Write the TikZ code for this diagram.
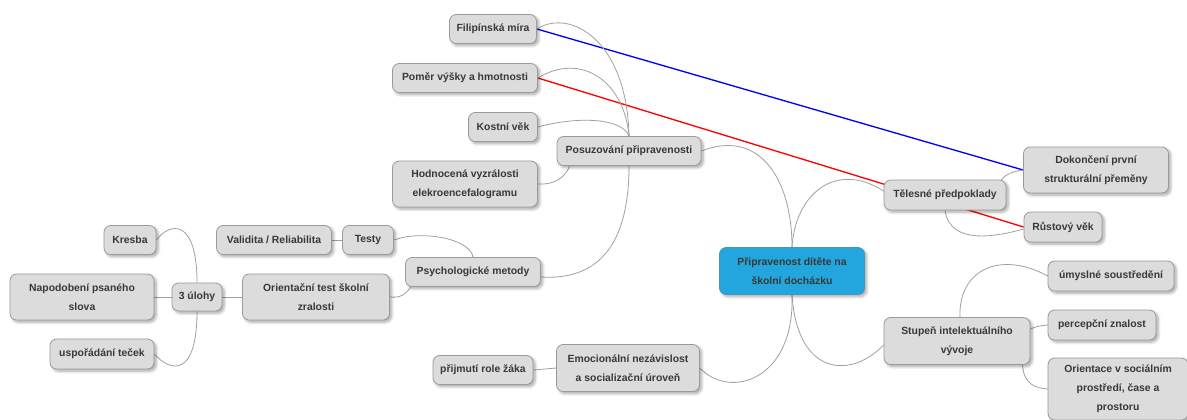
\documentclass[tikz,border=0pt]{standalone}
\usepackage{fontspec}
\setmainfont{Liberation Sans}
\usetikzlibrary{shadows.blur,backgrounds,calc}
\definecolor{boxfill}{HTML}{DCDCDC}
\definecolor{boxline}{HTML}{9A9A9A}
\definecolor{txt}{HTML}{383838}
\definecolor{rootfill}{HTML}{22A6DD}
\definecolor{link}{HTML}{A0A0A0}
\begin{document}
\begin{tikzpicture}[x=0.75pt,y=-0.75pt,
  box/.style={draw=boxline, line width=0.6pt, fill=boxfill, rounded corners=5pt,
    text=txt, align=center, inner sep=0pt,
    font=\fontsize{7.8}{14.2}\selectfont\bfseries,
    blur shadow={shadow xshift=1.6pt, shadow yshift=-1.6pt, shadow blur steps=6, shadow opacity=35}},
  sz/.style 2 args={minimum width=#1*0.75pt, minimum height=#2*0.75pt},
  rootbox/.style={box, fill=rootfill, draw=rootfill!60!gray},
  link/.style={draw=link, line width=0.6pt},
  cross/.style={line width=1pt}]
\useasboundingbox (0,0) rectangle (1187,419);

% ---- nodes ----
\node[box, sz={87}{29}]  (fil) at (493,29)  {Filipínská míra};
\node[box, sz={145}{29}] (pom) at (465,78)  {Poměr výšky a hmotnosti};
\node[box, sz={69}{29}]  (kos) at (503,127) {Kostní věk};
\node[box, sz={144}{29}] (pos) at (629,151) {Posuzování připravenosti};
\node[box, sz={145}{46}] (hod) at (465,184) {Hodnocená vyzrálosti\\elekroencefalogramu};
\node[box, sz={115}{29}] (val) at (274,240) {Validita / Reliabilita};
\node[box, sz={51}{29}]  (tes) at (368,240) {Testy};
\node[box, sz={135}{29}] (psy) at (473,272) {Psychologické metody};
\node[box, sz={52}{29}]  (kre) at (130,240) {Kresba};
\node[box, sz={144}{46}] (nap) at (82,297)  {Napodobení psaného\\slova};
\node[box, sz={50}{28}]  (ulo) at (197,297) {3 úlohy};
\node[box, sz={147}{46}] (ori) at (316,297) {Orientační test školní\\zralosti};
\node[box, sz={104}{30}] (usp) at (102,354) {uspořádání teček};
\node[box, sz={100}{29}] (pri) at (483,370) {přijmutí role žáka};
\node[box, sz={143}{47}] (emo) at (628,368) {Emocionální nezávislost\\a socializační úroveň};
\node[rootbox, sz={145}{47}] (root) at (792,271) {Připravenost dítěte na\\školní docházku};
\node[box, sz={122}{30}] (tel) at (945,195) {Tělesné předpoklady};
\node[box, sz={145}{46}] (dok) at (1096,170) {Dokončení první\\strukturální přeměny};
\node[box, sz={78}{30}]  (rus) at (1063,227) {Růstový věk};
\node[box, sz={126}{30}] (umy) at (1111,276) {úmyslné soustředění};
\node[box, sz={146}{47}] (stu) at (957,341) {Stupeň intelektuálního\\vývoje};
\node[box, sz={108}{30}] (per) at (1102,325) {percepční znalost};
\node[box, sz={140}{62}] (ors) at (1118,389) {Orientace v sociálním\\prostředí, čase a\\prostoru};

% ---- connectors ----
\begin{scope}[on background layer]
  % cross links
  \draw[cross, blue] (fil.east) -- (dok.west);
  \draw[cross, red]  (pom.east) -- (rus.west);

  % assessment branch
  \draw[link] (fil.east) .. controls (570,8) and (627,40) .. (pos.north);
  \draw[link] (pom.east) .. controls (580,52) and (624,80) .. (pos.north);
  \draw[link] (kos.east) .. controls (578,116) and (622,118) .. (pos.north);
  \draw[link] (hod.east) .. controls (556,185) and (566,176) .. ($(pos.south west)+(13,0)$);
  \draw[link] (pos.south) .. controls (629,255) and (590,280) .. ($(psy.east)+(0,5)$);
  \draw[link] (pos.east) .. controls (760,128) and (792,180) .. (root.north);

  % physical branch
  \draw[link] (root.north) .. controls (795,195) and (835,160) .. ($(tel.west)+(0,-4)$);
  \draw[link] ($(tel.north east)+(-5,0)$) .. controls (1006,174) and (1014,171) .. (dok.west);
  \draw[link] (tel.south) .. controls (950,245) and (995,237) .. ($(rus.west)+(0,2)$);

  % emotional branch
  \draw[link] (root.south) .. controls (795,380) and (730,400) .. (emo.east);
  \draw[link] (pri.east) -- (emo.west);

  % intellectual branch
  \draw[link] (root.south) .. controls (797,375) and (850,380) .. ($(stu.west)+(0,4)$);
  \draw[link] ($(stu.north)+(3,0)$) .. controls (958,270) and (1000,250) .. (umy.west);
  \draw[link] ($(stu.east)+(0,-12)$) .. controls (1038,326) .. (per.west);
  \draw[link] ($(stu.south east)+(-8,0)$) .. controls (1024,385) and (1036,388) .. (ors.west);

  % psychological branch
  \draw[link] (psy.north) .. controls (470,238) and (420,230) .. (tes.east);
  \draw[link] (val.east) -- (tes.west);
  \draw[link] ($(psy.south west)+(6,0)$) .. controls (405,295) and (400,298) .. (ori.east);
  \draw[link] (ulo.east) -- (ori.west);
  \draw[link] (ulo.north) .. controls (197,218) and (170,222) .. (kre.east);
  \draw[link] (nap.east) -- (ulo.west);
  \draw[link] (ulo.south) .. controls (197,378) and (170,372) .. (usp.east);
\end{scope}
\end{tikzpicture}
\end{document}
